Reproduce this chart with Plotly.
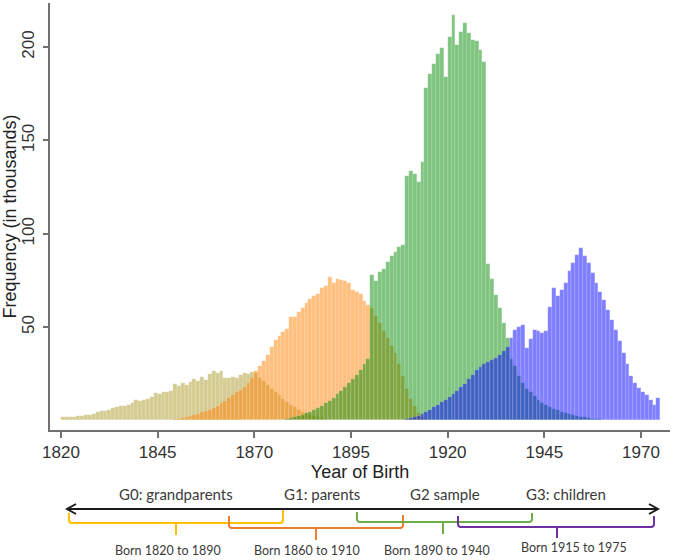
import plotly.graph_objects as go

# ---------------- data (values in thousands, one bar per birth year) ----------------
years_g0 = list(range(1820, 1891))
g0_grandparents = [
    1.7, 1.8, 2.0, 2.0, 2.2, 2.5, 2.8, 3.0, 3.5, 4.7,
    5.0, 5.0, 5.5, 6.5, 7.0, 7.5, 8.0, 8.5, 9.5, 11.0,
    10.5, 11.0, 11.5, 12.7, 14.5, 14.0, 15.0, 15.5, 16.0, 19.5,
    18.5, 20.0, 19.0, 20.5, 22.0, 21.0, 23.5, 21.5, 25.0, 26.5,
    25.5, 26.5, 22.5, 23.0, 23.5, 23.0, 24.5, 25.5, 25.0, 26.0,
    25.5, 23.0, 21.0, 19.0, 17.0, 15.5, 13.5, 11.5, 10.0, 8.5,
    7.0, 5.8, 4.8, 3.8, 3.0, 2.3, 1.7, 1.2, 0.8, 0.5,
    0.3,
]

years_g1 = list(range(1848, 1939))
g1_parents = [
    0.5, 0.8, 1.0, 1.4, 1.9, 2.4, 3.0, 3.6, 4.3, 5.0,
    5.8, 6.8, 8.0, 9.2, 10.5, 12.0, 13.5, 15.0, 16.5, 18.0,
    20.0, 23.0, 26.5, 29.0, 32.0, 35.0, 39.5, 43.0, 45.0, 47.5,
    49.0, 55.5, 55.5, 58.0, 60.0, 63.0, 65.0, 66.5, 68.0, 71.0,
    72.0, 77.0, 73.5, 76.0, 75.5, 74.5, 73.5, 70.0, 69.0, 67.5,
    64.0, 62.0, 60.0, 56.0, 52.0, 48.0, 44.0, 40.0, 36.0, 30.0,
    24.0, 17.0, 11.5, 7.5, 4.0, 2.0, 1.0, 0.5, 0.5, 0.5,
    0.5, 0.5, 0.5, 0.5, 0.5, 0.5, 0.5, 0.5, 0.5, 0.5,
    0.5, 0.5, 0.5, 0.5, 0.5, 0.5, 0.5, 0.5, 0.5, 0.5,
    0.5,
]

years_g2 = list(range(1877, 1963))
g2_sample = [
    0.5, 1.0, 1.5, 2.0, 2.5, 3.2, 4.0, 4.8, 5.6, 6.8,
    8.0, 9.2, 10.5, 12.0, 14.0, 16.0, 18.0, 20.0, 22.0, 24.5,
    27.0, 30.0, 33.0, 78.0, 74.5, 79.5, 81.0, 85.0, 88.0, 90.5,
    93.0, 94.0, 131.0, 133.5, 132.0, 127.5, 138.5, 178.0, 185.5, 191.0,
    196.5, 199.5, 184.0, 205.5, 217.0, 201.0, 208.0, 213.0, 207.5, 204.0,
    203.0, 198.5, 192.0, 84.0, 76.0, 67.0, 60.0, 52.0, 44.0, 33.0,
    29.0, 24.0, 20.0, 17.0, 15.0, 13.0, 11.0, 9.5, 8.3, 7.2,
    6.3, 5.5, 4.8, 4.2, 3.6, 3.0, 2.5, 2.0, 1.6, 1.3,
    1.0, 0.8, 0.6, 0.5, 0.4, 0.3,
]

years_g3 = list(range(1866, 1975))
g3_children = [
    0.5, 0.5, 0.5, 0.5, 0.5, 0.5, 0.5, 0.5, 0.5, 0.5,
    0.5, 0.5, 0.5, 0.5, 0.5, 0.5, 0.5, 0.5, 0.5, 0.5,
    0.5, 0.5, 0.5, 0.5, 0.5, 0.5, 0.5, 0.5, 0.5, 0.5,
    0.5, 0.5, 0.5, 0.5, 0.5, 0.5, 0.5, 0.5, 0.5, 0.5,
    0.5, 0.5, 0.5, 0.8, 1.2, 1.8, 2.6, 3.5, 4.6, 5.8,
    7.0, 8.3, 9.8, 11.2, 12.8, 14.4, 16.0, 17.8, 19.8, 22.0,
    24.5, 27.0, 28.8, 30.0, 31.2, 32.5, 33.5, 35.0, 37.0, 39.5,
    44.0, 48.5, 50.3, 51.1, 39.0, 43.5, 48.5, 48.0, 46.7, 48.0,
    61.0, 70.8, 66.5, 70.0, 73.5, 80.0, 84.5, 88.6, 92.2, 88.0,
    84.2, 79.0, 73.5, 69.0, 64.5, 59.2, 53.8, 48.5, 42.5, 36.0,
    30.0, 24.0, 20.0, 17.2, 15.4, 13.7, 11.0, 8.5, 11.9,
]

x_ticks = [1820, 1845, 1870, 1895, 1920, 1945, 1970]
y_ticks = [50, 100, 150, 200]

gen_labels = ["G0: grandparents", "G1: parents", "G2 sample", "G3: children"]
born_labels = ["Born 1820 to 1890", "Born 1860 to 1910", "Born 1890 to 1940", "Born 1915 to 1975"]

# ---------------- styling ----------------
W, H = 675, 560
ML, MR, MT, MB = 50, 5, 3, 130
PW, PH = W - ML - MR, H - MT - MB

fills = [
    "rgba(169,153,40,0.5)",   # G0 khaki
    "rgba(255,128,0,0.5)",    # G1 orange
    "rgba(0,140,0,0.5)",      # G2 green
    "rgba(0,0,255,0.5)",      # G3 blue
]

fig = go.Figure()
series = [(years_g0, g0_grandparents), (years_g1, g1_parents),
          (years_g2, g2_sample), (years_g3, g3_children)]
for (yrs, vals), col, name in zip(series, fills, gen_labels):
    fig.add_trace(go.Bar(
        x=[y + 0.5 for y in yrs], y=vals, width=1.0, name=name,
        marker=dict(color=col, line=dict(width=0.4, color="rgba(255,255,255,0.35)")),
        hoverinfo="x+y",
    ))


def P(px, py):
    """pixel -> paper coordinates"""
    return (px - ML) / PW, (H - MB - py) / PH


shapes = []
# main double arrow
ax0, ax1, ay = 67, 658, 509
(x0, y0), (x1, y1) = P(ax0, ay), P(ax1, ay)
shapes.append(dict(type="line", xref="paper", yref="paper", x0=x0, y0=y0, x1=x1, y1=y1,
                   line=dict(color="#1a1a1a", width=2)))
for tip, d in [(ax0, 1), (ax1, -1)]:
    a = P(tip + d * 9, ay - 5)
    b = P(tip, ay)
    c = P(tip + d * 9, ay + 5)
    shapes.append(dict(type="path", xref="paper", yref="paper",
                       path=f"M {a[0]},{a[1]} L {b[0]},{b[1]} L {c[0]},{c[1]}",
                       line=dict(color="#1a1a1a", width=2)))

# braces: left x, right x, top y of left end, top y of right end, horizontal y, stem x, stem bottom y
braces = [
    (69, 283, 513, 510, 523, 176, 535, "#ffc000"),
    (229, 403, 516, 515, 528, 316, 540, "#ed7d31"),
    (357, 532, 512, 513, 522, 443, 534, "#70ad47"),
    (458, 654, 516, 516, 527, 557, 538, "#7030a0"),
]
r = 3
for bx0, bx1, ty0, ty1, hy, sx, sy, col in braces:
    pts = [P(bx0, ty0), P(bx0, hy - r), P(bx0, hy), P(bx0 + r, hy),
           P(bx1 - r, hy), P(bx1, hy), P(bx1, hy - r), P(bx1, ty1)]
    path = (f"M {pts[0][0]},{pts[0][1]} L {pts[1][0]},{pts[1][1]} "
            f"Q {pts[2][0]},{pts[2][1]} {pts[3][0]},{pts[3][1]} "
            f"L {pts[4][0]},{pts[4][1]} Q {pts[5][0]},{pts[5][1]} {pts[6][0]},{pts[6][1]} "
            f"L {pts[7][0]},{pts[7][1]}")
    shapes.append(dict(type="path", xref="paper", yref="paper", path=path,
                       line=dict(color=col, width=2)))
    s0, s1 = P(sx, hy), P(sx, sy)
    shapes.append(dict(type="line", xref="paper", yref="paper",
                       x0=s0[0], y0=s0[1], x1=s1[0], y1=s1[1], line=dict(color=col, width=2)))

annotations = []
gen_pos = [(176, 494), (322, 494), (445, 494), (566, 494)]
for txt, (px, py) in zip(gen_labels, gen_pos):
    x, y = P(px, py)
    annotations.append(dict(text=txt, x=x, y=y, xref="paper", yref="paper", showarrow=False,
                            xanchor="center", yanchor="middle",
                            font=dict(family="Lato", size=15, color="#3a3a3a")))
born_pos = [(168, 550), (307, 550), (437, 550), (574, 548)]
for txt, (px, py) in zip(born_labels, born_pos):
    x, y = P(px, py)
    annotations.append(dict(text=txt, x=x, y=y, xref="paper", yref="paper", showarrow=False,
                            xanchor="center", yanchor="middle",
                            font=dict(family="Lato", size=12.5, color="#3a3a3a")))

axis_font = dict(family="Liberation Sans, Arial, sans-serif", size=17, color="#333333")

fig.update_layout(
    width=W, height=H,
    margin=dict(l=ML, r=MR, t=MT, b=MB, pad=0, autoexpand=False),
    paper_bgcolor="white", plot_bgcolor="white",
    barmode="overlay", bargap=0, showlegend=False,
    shapes=shapes, annotations=annotations,
    xaxis=dict(
        range=[1817.16, 1977.5], tickvals=x_ticks, ticktext=[str(t) for t in x_ticks],
        ticks="outside", ticklen=6, tickwidth=1.5, tickcolor="#707070", automargin=False,
        showline=True, linecolor="#707070", linewidth=1.5, showgrid=False, zeroline=False,
        tickfont=axis_font,
        title=dict(text="Year of Birth", font=dict(family="Liberation Sans, Arial, sans-serif",
                                                    size=18, color="#222222"), standoff=2),
    ),
    yaxis=dict(
        range=[-5.1, 223.6], tickvals=y_ticks, ticktext=[str(t) for t in y_ticks],
        ticks="outside", ticklen=5, tickwidth=1.5, tickcolor="#707070", tickangle=-90,
        ticklabelstandoff=2,
        showline=True, linecolor="#707070", linewidth=1.5, showgrid=False, zeroline=False,
        tickfont=axis_font, automargin=False,
        title=dict(text="Frequency (in thousands)", font=dict(family="Liberation Sans, Arial, sans-serif",
                                                               size=18, color="#222222"), standoff=2),
    ),
)

fig.write_html("out.html", config={"displayModeBar": False},
               post_script="document.body.style.margin='0px';document.body.style.padding='0px';")
